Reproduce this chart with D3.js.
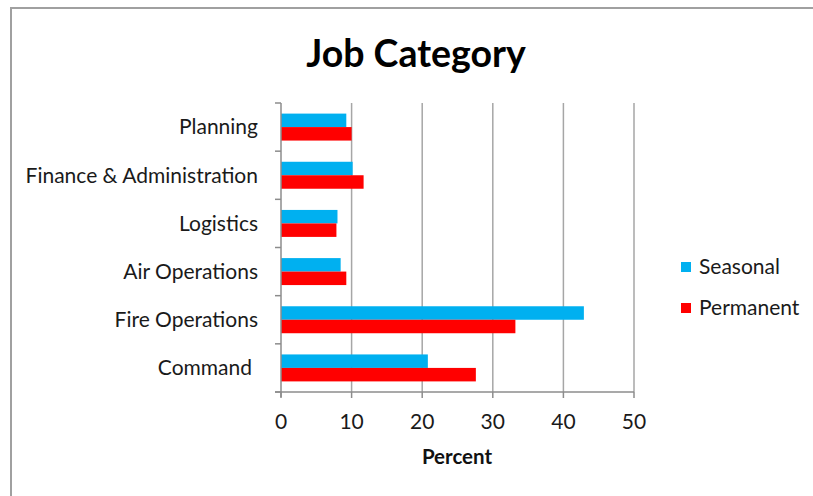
<!DOCTYPE html>
<html><head><meta charset="utf-8">
<script src="https://cdn.jsdelivr.net/npm/d3@7"></script>
<style>body{margin:0;background:#fff}svg{display:block}text{font-family:Lato,"Open Sans",sans-serif}</style>
</head><body>
<svg id="c" width="813" height="496"></svg>
<script>
const categories = ["Planning","Finance & Administration","Logistics","Air Operations","Fire Operations","Command"];
const seasonal = [9.25, 10.15, 8.0, 8.45, 42.9, 20.8];
const permanent = [10.0, 11.7, 7.85, 9.25, 33.2, 27.6];
const seriesNames = ["Seasonal","Permanent"];
const seriesColors = ["#00b0f0","#ff0000"];
const xTicks = [0,10,20,30,40,50];

const svg = d3.select("#c");
// frame
svg.append("path").attr("d","M11,496V8H813").attr("fill","none").attr("stroke","#a0a0a0").attr("stroke-width",2);

const x = d3.scaleLinear().domain([0,50]).range([281,634]);
const y = d3.scaleBand().domain(categories).range([103,392]).paddingInner(0.44).paddingOuter(0.22);
const ys = d3.scaleBand().domain(seriesNames).range([0,y.bandwidth()]);

// gridlines
svg.append("g").selectAll("line").data(xTicks.filter(d=>d>0)).join("line")
  .attr("x1",d=>x(d)).attr("x2",d=>x(d)).attr("y1",103).attr("y2",392)
  .attr("stroke","#a6a6a6").attr("stroke-width",1.5);

// bars
const data = categories.map((c,i)=>({c, vals:[seasonal[i],permanent[i]]}));
const g = svg.append("g").selectAll("g").data(data).join("g").attr("transform",d=>`translate(0,${y(d.c)})`);
g.selectAll("rect").data(d=>d.vals.map((v,j)=>({v,j}))).join("rect")
  .attr("x",x(0)).attr("y",d=>ys(seriesNames[d.j])).attr("height",ys.bandwidth())
  .attr("width",d=>x(d.v)-x(0)).attr("fill",d=>seriesColors[d.j]);

// y axis
const yTickPos = d3.range(categories.length+1).map(i=>103 + i*(392-103)/categories.length);
svg.append("line").attr("x1",281).attr("x2",281).attr("y1",103).attr("y2",397).attr("stroke","#8c8c8c").attr("stroke-width",1.5);
svg.append("g").selectAll("line").data(yTickPos).join("line")
  .attr("x1",275).attr("x2",281).attr("y1",d=>d).attr("y2",d=>d).attr("stroke","#8c8c8c").attr("stroke-width",1.5);
svg.append("g").selectAll("text").data(categories).join("text")
  .attr("x",d=>d==="Command"?252:258).attr("y",d=>y(d)+y.bandwidth()/2).attr("dy","0.35em")
  .attr("text-anchor","end").attr("font-size",21).attr("fill","#1a1a1a").text(d=>d);

// x axis
svg.append("line").attr("x1",275).attr("x2",634).attr("y1",392).attr("y2",392).attr("stroke","#8c8c8c").attr("stroke-width",1.5);
svg.append("g").selectAll("line").data(xTicks).join("line")
  .attr("x1",d=>x(d)).attr("x2",d=>x(d)).attr("y1",392).attr("y2",398).attr("stroke","#8c8c8c").attr("stroke-width",1.5);
svg.append("g").selectAll("text").data(xTicks).join("text")
  .attr("x",d=>x(d)).attr("y",429).attr("text-anchor","middle").attr("font-size",21).attr("fill","#1a1a1a").text(d=>d);
svg.append("text").attr("x",457).attr("y",464).attr("text-anchor","middle").attr("font-size",20.5).attr("font-weight","bold").attr("fill","#111").text("Percent");

// title
svg.append("text").attr("x",416).attr("y",67).attr("text-anchor","middle").attr("font-size",37.5).attr("font-weight","bold").attr("fill","#000").text("Job Category");

// legend
const lg = svg.append("g").selectAll("g").data(seriesNames).join("g").attr("transform",(d,i)=>`translate(681,${267+i*41})`);
lg.append("rect").attr("x",0).attr("y",-5).attr("width",10).attr("height",10).attr("fill",(d,i)=>seriesColors[i]);
lg.append("text").attr("x",18).attr("y",0).attr("dy","0.35em").attr("font-size",21).attr("fill","#1a1a1a").text(d=>d);
</script>
</body></html>
